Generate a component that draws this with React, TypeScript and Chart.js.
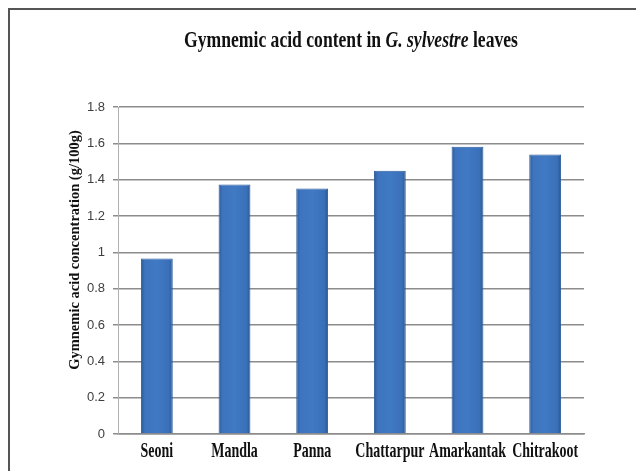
import React, { useEffect, useRef } from "react";
import { Chart, registerables } from "chart.js";

Chart.register(...registerables);

const locations = ["Seoni", "Mandla", "Panna", "Chattarpur", "Amarkantak", "Chitrakoot"];
const acidContent = [0.966, 1.374, 1.352, 1.449, 1.581, 1.539];
const yTicks = [0, 0.2, 0.4, 0.6, 0.8, 1, 1.2, 1.4, 1.6, 1.8];
const titleParts = [
  { text: "Gymnemic acid content in ", italic: false },
  { text: "G. sylvestre", italic: true },
  { text: " leaves", italic: false },
];
const yTitle = "Gymnemic acid concentration (g/100g)";

const SERIF = "'Liberation Serif', 'Times New Roman', serif";

// title, y title and category labels look squeezed sideways in the original
const textPlugin = {
  id: "textPlugin",
  afterDraw: (chart: Chart) => {
    const ctx = chart.ctx;
    const xScale = chart.scales.x;

    // title
    ctx.save();
    ctx.fillStyle = "#111";
    ctx.textBaseline = "alphabetic";
    ctx.textAlign = "left";
    const squeeze = 0.765;
    let total = 0;
    titleParts.forEach((p) => {
      ctx.font = `${p.italic ? "italic " : ""}bold 23px ${SERIF}`;
      total += ctx.measureText(p.text).width;
    });
    ctx.translate(341, 37);
    ctx.scale(squeeze, 1);
    let x = -total / 2;
    titleParts.forEach((p) => {
      ctx.font = `${p.italic ? "italic " : ""}bold 23px ${SERIF}`;
      ctx.fillText(p.text, x, 0);
      x += ctx.measureText(p.text).width;
    });
    ctx.restore();

    // y axis title
    ctx.save();
    ctx.fillStyle = "#111";
    ctx.font = `bold 14.5px ${SERIF}`;
    ctx.textAlign = "center";
    ctx.textBaseline = "middle";
    ctx.translate(65, 240);
    ctx.rotate(-Math.PI / 2);
    ctx.fillText(yTitle, 0, 0);
    ctx.restore();

    // category labels
    ctx.save();
    ctx.fillStyle = "#111";
    ctx.font = `bold 21px ${SERIF}`;
    ctx.textAlign = "center";
    ctx.textBaseline = "alphabetic";
    locations.forEach((name, i) => {
      const px = xScale.getPixelForValue(i);
      ctx.save();
      ctx.translate(px, 447);
      ctx.scale(0.665, 1);
      ctx.fillText(name, 0, 0);
      ctx.restore();
    });
    ctx.restore();
  },
};

const barFill = (context: any) => {
  const chart = context.chart;
  const xScale = chart.scales?.x;
  if (!xScale || context.dataIndex === undefined) return "#3f79c4";
  const cx = xScale.getPixelForValue(context.dataIndex);
  const w = (xScale.width / locations.length) * 0.41;
  if (!Number.isFinite(cx) || !Number.isFinite(w) || w <= 0) return "#3f79c4";
  const g = chart.ctx.createLinearGradient(cx - w / 2, 0, cx + w / 2, 0);
  g.addColorStop(0, "#2a5895");
  g.addColorStop(0.12, "#3e74bd");
  g.addColorStop(0.5, "#4079c4");
  g.addColorStop(0.88, "#3a70b8");
  g.addColorStop(1, "#2a5590");
  return g;
};

export default function App() {
  const canvasRef = useRef<HTMLCanvasElement>(null);

  useEffect(() => {
    if (!canvasRef.current) return;
    const chart = new Chart(canvasRef.current, {
      type: "bar",
      data: {
        labels: locations,
        datasets: [
          {
            label: "Gymnemic acid",
            data: acidContent,
            backgroundColor: barFill,
            borderColor: "#2b5b9c",
            borderWidth: 1,
            barPercentage: 0.41,
            categoryPercentage: 1,
          },
        ],
      },
      plugins: [textPlugin],
      options: {
        responsive: true,
        maintainAspectRatio: false,
        animation: false,
        layout: {
          padding: { left: 50, right: 60, top: 97, bottom: 0 },
        },
        plugins: {
          legend: { display: false },
          tooltip: { enabled: false },
          title: { display: false },
        },
        scales: {
          x: {
            grid: { display: false },
            border: { display: true, color: "#8c8c8c", width: 1.5 },
            ticks: { display: false },
            afterFit: (scale: any) => {
              scale.height = 37;
            },
          },
          y: {
            min: 0,
            max: 1.8,
            afterBuildTicks: (scale: any) => {
              scale.ticks = yTicks.map((v) => ({ value: v }));
            },
            afterFit: (scale: any) => {
              scale.width = 58;
            },
            grid: {
              color: "#8c8c8c",
              lineWidth: 1.5,
              drawTicks: true,
              tickLength: 5,
            },
            border: { display: true, color: "#b0b0b0", width: 1 },
            ticks: {
              color: "#3e3e3e",
              padding: 8,
              font: {
                family: "'Liberation Sans Narrow', 'Liberation Sans', Arial, sans-serif",
                size: 13,
              },
              callback: (v: any) => String(v),
            },
          },
        },
      },
    });
    return () => chart.destroy();
  }, []);

  return (
    <div
      style={{
        width: 636,
        height: 463,
        borderLeft: "2px solid #555",
        borderTop: "2px solid #555",
        boxSizing: "border-box",
        background: "#fff",
        position: "relative",
      }}
    >
      <div style={{ position: "absolute", left: 0, top: 0, width: 634, height: 461 }}>
        <canvas ref={canvasRef} />
      </div>
    </div>
  );
}
